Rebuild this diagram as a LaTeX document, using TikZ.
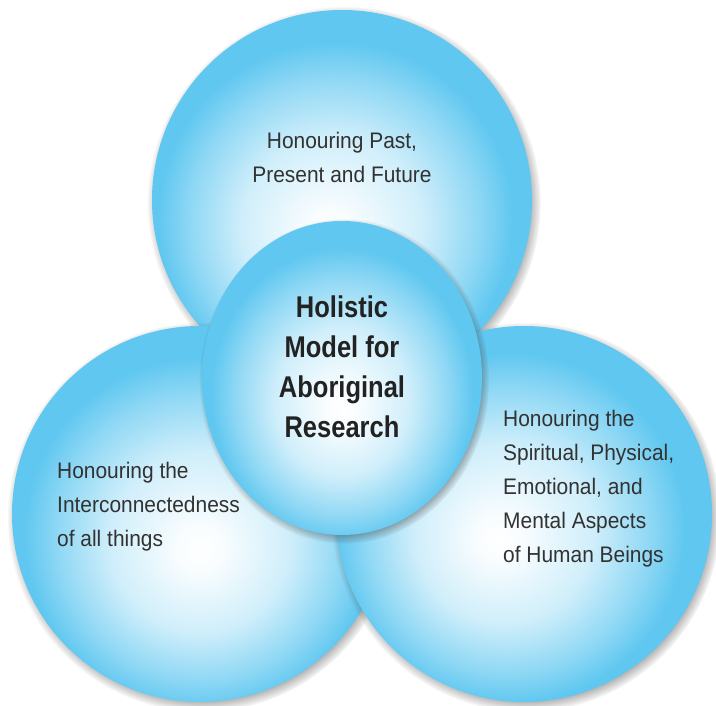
\documentclass[tikz,border=0pt]{standalone}
\usepackage{fontspec}
\setmainfont{Liberation Sans}[FakeStretch=0.93]
\newfontfamily\hubfont{Liberation Sans}[FakeStretch=0.85]
\usepackage{tikz}
\usetikzlibrary{shapes.geometric}
\usetikzlibrary{fadings}
\usetikzlibrary{shadows}

\definecolor{bubbleblue}{RGB}{95,199,240}
\definecolor{inkgray}{RGB}{50,50,50}
\definecolor{hubink}{RGB}{34,34,34}

% pale spot slightly off centre, deep blue towards the rim (rim sits at 25bp)
\pgfdeclareradialshading{bubblefill}{\pgfpoint{0bp}{-5bp}}{%
	color(0bp)=(white); color(3bp)=(bubbleblue!4!white);
	color(12bp)=(bubbleblue!30!white);
	color(19bp)=(bubbleblue!70!white);
	color(23.5bp)=(bubbleblue); color(50bp)=(bubbleblue)}

\begin{document}
\begin{tikzpicture}[x=1pt, y=-1pt]
	\fill[white] (0,0) rectangle (716,706);
	\useasboundingbox (0,0) rectangle (716,706);
	\begin{scope}[every node/.style = {inner sep=0pt, shading=bubblefill,
			general shadow={shadow scale=1.035, shadow xshift=2pt, shadow yshift=-3pt,
				fill=black!70, opacity=0.7,
				path fading=circle with fuzzy edge 10 percent}}]
		\node[circle, minimum size=380pt, shading angle=-20] (past) at (342,200) {};
		\node[circle, minimum size=376pt] (link) at (200,514) {};
		\node[circle, minimum size=376pt, shading angle=-45] (being) at (524,514) {};
		\node[ellipse, minimum width=280pt, minimum height=314pt] (hub) at (342,378) {};
	\end{scope}
	\begin{scope}[every node/.style = {inner sep=0pt, text=inkgray,
			font=\fontsize{22.5}{34}\selectfont}]
		\node[align=center] (pastText) at (342,157) {Honouring Past,\\Present and Future};
		\node[align=left, anchor=west] (linkText) at (57,507)
			{Honouring the\\Interconnectedness\\of all things};
		\node[align=left, anchor=west] (beingText) at (503,489)
			{Honouring the\\Spiritual, Physical,\\Emotional, and\\Mental Aspects\\of Human Beings};
		\node[align=center, text=hubink, font=\hubfont\bfseries\fontsize{30}{40}\selectfont]
			(hubText) at (342,367) {Holistic\\Model for\\Aboriginal\\Research};
	\end{scope}
\end{tikzpicture}
\end{document}
